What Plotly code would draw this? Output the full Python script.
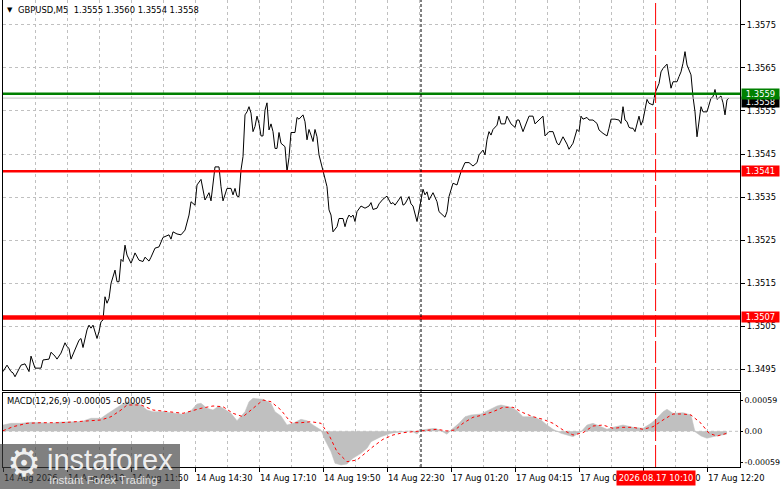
import plotly.graph_objects as go

# ---------------- data ----------------
price_bar = [
    0, 2, 4, 5, 6, 8, 9, 11, 13, 14,
    16, 19, 20, 23, 24, 26, 27, 29, 31, 32,
    33, 34, 36, 38, 39, 40, 42, 43, 44, 45,
    47, 48, 49, 50, 51, 52, 53, 54, 56, 57,
    58, 59, 60, 61, 62, 64, 65, 66, 68, 70,
    71, 73, 74, 76, 78, 79, 80, 83, 84, 85,
    87,
    89, 91, 93, 94, 96, 97, 99, 100, 101, 103,
    104, 106, 108, 109, 110, 112, 114, 115, 116, 117,
    118, 119, 120, 121, 122, 123, 124, 125, 126, 127,
    128, 129, 130, 131, 132, 133, 134, 135, 136, 137,
    138, 139, 141, 142, 143, 144, 146, 147, 148, 150,
    151, 152, 153, 154, 155, 156, 157, 158, 160, 162,
    163, 164, 165, 167, 168, 170, 171, 172, 173, 174,
    175, 176, 177, 179, 181, 183, 184, 185, 187, 188,
    190, 192, 194, 195, 196, 198, 199, 200, 201, 203,
    204, 205, 207,
    209, 210, 211, 212, 213, 215, 217, 218, 221, 222,
    223, 225, 227, 228, 229, 231, 233, 235, 237, 238,
    240, 241, 242, 243, 244, 245, 247, 248, 249, 251,
    252, 254, 255, 256, 257, 258, 260, 262, 263, 265,
    266, 268, 270, 271, 273, 275, 277, 278, 280, 282,
    283, 285, 287, 288, 289, 290, 292, 293, 295, 297,
    298, 300, 302, 303, 304, 306, 308, 309, 310, 311,
    312, 313, 314, 315, 316, 318, 319, 320, 322, 323,
    325, 326, 328, 329, 330, 332, 333, 334, 335, 337,
    338, 339, 340, 341, 342, 344, 345, 346, 347, 348,
    349, 350, 352, 353, 354, 355, 356, 357, 359, 360,
    361, 362, 363,
]
price_close = [
    1.34944, 1.34959, 1.34944, 1.34941, 1.34932, 1.34948, 1.34959, 1.34962, 1.34944, 1.34980,
    1.34952, 1.34952, 1.34971, 1.34973, 1.34989, 1.34980, 1.34973, 1.34987, 1.35011, 1.35002,
    1.34998, 1.34973, 1.34994, 1.35017, 1.35021, 1.35000, 1.35041, 1.35052, 1.35045, 1.35052,
    1.35021, 1.35037, 1.35060, 1.35064, 1.35118, 1.35103, 1.35114, 1.35149, 1.35180, 1.35153,
    1.35153, 1.35205, 1.35200, 1.35238, 1.35215, 1.35196, 1.35207, 1.35220, 1.35203, 1.35200,
    1.35210, 1.35201, 1.35210, 1.35231, 1.35234, 1.35246, 1.35256, 1.35262, 1.35252, 1.35269,
    1.35264,
    1.35262, 1.35273, 1.35308, 1.35339, 1.35331, 1.35378, 1.35391, 1.35366, 1.35343, 1.35360,
    1.35341, 1.35420, 1.35420, 1.35374, 1.35341, 1.35370, 1.35370, 1.35355, 1.35370, 1.35352,
    1.35351, 1.35413, 1.35444, 1.35541, 1.35548, 1.35560, 1.35545, 1.35502, 1.35514, 1.35538,
    1.35521, 1.35492, 1.35492, 1.35552, 1.35569, 1.35506, 1.35520, 1.35502, 1.35463, 1.35463,
    1.35500, 1.35475, 1.35467, 1.35409, 1.35442, 1.35500, 1.35500, 1.35535, 1.35531, 1.35541,
    1.35525, 1.35483, 1.35507, 1.35494, 1.35479, 1.35507, 1.35490, 1.35448, 1.35409, 1.35374,
    1.35320, 1.35308, 1.35269, 1.35281, 1.35300, 1.35300, 1.35281, 1.35298, 1.35308, 1.35303,
    1.35308, 1.35293, 1.35316, 1.35329, 1.35324, 1.35329, 1.35337, 1.35321, 1.35324, 1.35334,
    1.35345, 1.35352, 1.35334, 1.35337, 1.35331, 1.35343, 1.35351, 1.35331, 1.35334, 1.35351,
    1.35334, 1.35329, 1.35293,
    1.35343, 1.35368, 1.35355, 1.35362, 1.35343, 1.35360, 1.35339, 1.35316, 1.35303, 1.35316,
    1.35351, 1.35382, 1.35378, 1.35393, 1.35409, 1.35430, 1.35430, 1.35422, 1.35430, 1.35448,
    1.35459, 1.35448, 1.35483, 1.35502, 1.35494, 1.35507, 1.35517, 1.35538, 1.35520, 1.35520,
    1.35538, 1.35520, 1.35515, 1.35512, 1.35529, 1.35529, 1.35502, 1.35529, 1.35538, 1.35538,
    1.35520, 1.35529, 1.35538, 1.35492, 1.35502, 1.35502, 1.35475, 1.35471, 1.35490, 1.35473,
    1.35461, 1.35475, 1.35507, 1.35502, 1.35538, 1.35531, 1.35535, 1.35529, 1.35529, 1.35521,
    1.35506, 1.35498, 1.35492, 1.35510, 1.35531, 1.35531, 1.35529, 1.35521, 1.35560, 1.35529,
    1.35525, 1.35512, 1.35510, 1.35510, 1.35502, 1.35538, 1.35517, 1.35529, 1.35577, 1.35568,
    1.35564, 1.35591, 1.35614, 1.35641, 1.35649, 1.35659, 1.35630, 1.35603, 1.35618, 1.35618,
    1.35630, 1.35641, 1.35661, 1.35688, 1.35657, 1.35634, 1.35583, 1.35548, 1.35490, 1.35525,
    1.35560, 1.35548, 1.35548, 1.35564, 1.35580, 1.35583, 1.35600, 1.35577, 1.35585, 1.35569,
    1.35541, 1.35576, 1.35580,
]
assert len(price_bar) == len(price_close)

macd_bar = [
    0, 4, 9, 14, 19, 24, 29, 34, 39, 44,
    49, 52, 55, 59, 62, 65, 69, 72, 75, 80,
    85, 90, 94, 97, 99, 102, 105, 108, 110, 114,
    117, 119, 121, 123, 125, 130, 134, 136, 139, 142,
    145, 149, 152, 155, 159, 161, 164, 166, 169, 172,
    175, 179, 182, 184, 189, 194, 199, 204, 207, 209,
    213, 216, 219, 222, 224, 228, 231, 234, 239, 243,
    247, 249, 254, 257, 260, 265, 269, 272, 275, 279,
    282, 285, 289, 292, 295, 299, 302, 305, 310, 315,
    320, 324, 327, 330, 332, 335, 340, 344, 346, 349,
    352, 355, 359, 362,
]
macd_hist = [
    0.000120, 0.000153, 0.000153, 0.000172, 0.000164, 0.000153, 0.000178, 0.000184, 0.000184, 0.000249,
    0.000249, 0.000331, 0.000407, 0.000503, 0.000566, 0.000535, 0.000503, 0.000407, 0.000375, 0.000375,
    0.000344, 0.000325, 0.000394, 0.000522, 0.000535, 0.000440, 0.000407, 0.000484, 0.000440, 0.000344,
    0.000203, 0.000279, 0.000375, 0.000566, 0.000631, 0.000612, 0.000535, 0.000375, 0.000293, 0.000120,
    0.000153, 0.000229, 0.000203, 0.000120, 0.000025, -0.000166, -0.000390, -0.000612, -0.000644, -0.000625,
    -0.000516, -0.000421, -0.000325, -0.000199, -0.000103, -0.000038, -0.000013, 0.000011, -0.000052, 0.000025,
    0.000044, 0.000057, 0.000011, -0.000057, 0.000025, 0.000153, 0.000279, 0.000312, 0.000331, 0.000407,
    0.000484, 0.000503, 0.000459, 0.000394, 0.000279, 0.000279, 0.000216, 0.000120, 0.000038, -0.000038,
    -0.000071, -0.000103, -0.000008, 0.000120, 0.000153, 0.000088, 0.000038, 0.000076, 0.000120, 0.000076,
    0.000057, 0.000153, 0.000249, 0.000375, 0.000421, 0.000344, 0.000356, 0.000312, -0.000008, -0.000090,
    -0.000134, -0.000103, -0.000071, -0.000052,
]
assert len(macd_bar) == len(macd_hist)

signal_bar = [
    0, 5, 12, 19, 29, 39, 49, 54, 59, 62,
    69, 75, 82, 90, 99, 105, 110, 115, 120, 125,
    130, 134, 139, 144, 149, 154, 159, 163, 167, 172,
    177, 182, 185, 190, 195, 200, 205, 212, 217, 222,
    226, 230, 235, 240, 245, 250, 255, 260, 265, 270,
    275, 280, 285, 290, 295, 300, 305, 310, 315, 320,
    325, 330, 335, 340, 344, 349, 353, 357, 362,
]
signal_val = [
    0.000011, 0.000088, 0.000153, 0.000164, 0.000164, 0.000184, 0.000216, 0.000279, 0.000407, 0.000503,
    0.000503, 0.000407, 0.000375, 0.000344, 0.000440, 0.000484, 0.000470, 0.000344, 0.000279, 0.000440,
    0.000598, 0.000566, 0.000407, 0.000164, 0.000164, 0.000184, 0.000153, -0.000071, -0.000390, -0.000581,
    -0.000549, -0.000390, -0.000294, -0.000153, -0.000071, -0.000027, -0.000008, 0.000006, 0.000038, 0.000006,
    0.000025, 0.000153, 0.000268, 0.000312, 0.000375, 0.000459, 0.000459, 0.000356, 0.000279, 0.000229,
    0.000153, 0.000025, -0.000071, -0.000027, 0.000101, 0.000120, 0.000057, 0.000076, 0.000076, 0.000038,
    0.000088, 0.000216, 0.000331, 0.000331, 0.000312, 0.000153, -0.000038, -0.000090, -0.000038,
]
assert len(signal_bar) == len(signal_val)

price_ticks = [1.3495, 1.3505, 1.3515, 1.3525, 1.3535, 1.3545, 1.3555, 1.3565, 1.3575]
macd_ticks = [-0.00059, 0.0, 0.00059]
macd_tick_text = ["-0.00059", "0.00", "0.00059"]
time_tick_bars = [0, 32, 64, 96, 128, 160, 192, 224, 256, 288, 320, 352]
time_tick_text = ["14 Aug 2026", "14 Aug 09:10", "14 Aug 11:50", "14 Aug 14:30",
                  "14 Aug 17:10", "14 Aug 19:50", "14 Aug 22:30", "17 Aug 01:20",
                  "17 Aug 04:15", "17 Aug 07:00", "17 Aug 09:40", "17 Aug 12:20"]
grid_minor_bars = [16, 48, 80, 112, 144, 176, 208, 240, 272, 304, 336]

level_green = 1.3559
level_bid = 1.3558
level_red1 = 1.3541
level_red2 = 1.3507
cursor_bar = 326.3
cursor_text = "2026.08.17 10:10"
separator_bar = 209
header_text = "GBPUSD,M5  1.3555 1.3560 1.3554 1.3558"
macd_header = "MACD(12,26,9) -0.00005 -0.00005"

# ---------------- layout geometry ----------------
W, H = 781, 489
ML, MR, MT, MB = 3, 41, 0, 22
PW, PH = W - ML - MR, H - MT - MB


def pxx(p):
    return (p - ML) / PW


def pxy(p):
    return (PH + MT - p) / PH


FONT = "DejaVu Sans"
FS = 8.4
GRID = "#c0c0c0"

fig = go.Figure()
fig.add_trace(go.Scatter(x=price_bar, y=price_close, mode="lines",
                         line=dict(color="black", width=1), xaxis="x", yaxis="y",
                         hoverinfo="skip"))
fig.add_trace(go.Scatter(x=macd_bar, y=macd_hist, mode="lines", fill="tozeroy",
                         fillcolor="#c0c0c0", line=dict(color="#c0c0c0", width=0.5),
                         xaxis="x2", yaxis="y2", hoverinfo="skip"))
fig.add_trace(go.Scatter(x=signal_bar, y=signal_val, mode="lines",
                         line=dict(color="#ff0000", width=1, dash="3px,3px"),
                         xaxis="x2", yaxis="y2", hoverinfo="skip"))

xcommon = dict(range=[0, 368.5], tickmode="array", tickvals=time_tick_bars,
               showgrid=True, gridcolor=GRID, griddash="3px,3px", gridwidth=1,
               zeroline=False, linecolor="black", linewidth=1, automargin=False,
               tickangle=0,
               minor=dict(tickmode="array", tickvals=grid_minor_bars, showgrid=True,
                          gridcolor=GRID, griddash="3px,3px", ticks=""))

fig.update_layout(
    width=W, height=H,
    margin=dict(l=ML, r=MR, t=MT, b=MB, autoexpand=False),
    paper_bgcolor="white", plot_bgcolor="white",
    showlegend=False, hovermode=False,
    font=dict(family=FONT, size=FS, color="black"),
    xaxis=dict(**xcommon, anchor="y", showticklabels=False, ticks="",
               showline=True, mirror=False, domain=[0, 1]),
    xaxis2=dict(**xcommon, anchor="y2", matches="x", ticktext=time_tick_text,
                ticks="outside", ticklen=4, tickcolor="black", ticklabelstandoff=3,
                ticklabelposition="outside right", showline=True, mirror=True,
                tickfont=dict(family=FONT, size=FS, color="black"), domain=[0, 1]),
    yaxis=dict(domain=[pxy(390), 1], range=[1.349012, 1.358081], side="right",
               tickmode="array", tickvals=price_ticks, tickformat=".4f",
               ticks="outside", ticklen=4, tickcolor="black", automargin=False,
               showgrid=True, gridcolor=GRID, griddash="3px,3px", zeroline=False,
               showline=True, mirror=True, linecolor="black", linewidth=1,
               tickfont=dict(family=FONT, size=FS, color="black")),
    yaxis2=dict(domain=[0, pxy(393)], range=[-0.0006826, 0.0007323], side="right",
                tickmode="array", tickvals=macd_ticks, ticktext=macd_tick_text,
                ticks="outside", ticklen=2, tickcolor="black", automargin=False,
                showgrid=False, zeroline=False,
                showline=True, mirror=True, linecolor="black", linewidth=1,
                tickfont=dict(family=FONT, size=7.9, color="black")),
)

shapes = []
# MACD zero level
shapes.append(dict(type="line", xref="x2", yref="y2", x0=0, x1=368.5, y0=0, y1=0,
                   line=dict(color=GRID, width=1, dash="3px,3px"), layer="below"))
# horizontal levels
shapes.append(dict(type="line", xref="paper", yref="y", x0=0, x1=1, y0=level_bid, y1=level_bid,
                   line=dict(color="#c0c0c0", width=1), layer="above"))
shapes.append(dict(type="line", xref="paper", yref="y", x0=0, x1=1, y0=level_green, y1=level_green,
                   line=dict(color="#008000", width=2.5), layer="above"))
shapes.append(dict(type="line", xref="paper", yref="y", x0=0, x1=1, y0=level_red1, y1=level_red1,
                   line=dict(color="#ff0000", width=2.5), layer="above"))
shapes.append(dict(type="line", xref="paper", yref="y", x0=0, x1=1, y0=level_red2, y1=level_red2,
                   line=dict(color="#ff0000", width=4.5), layer="above"))
# vertical separators
shapes.append(dict(type="line", xref="x", yref="paper", x0=separator_bar, x1=separator_bar,
                   y0=0, y1=1, line=dict(color="black", width=1, dash="3px,2px"), layer="above"))
shapes.append(dict(type="line", xref="x", yref="paper", x0=cursor_bar, x1=cursor_bar,
                   y0=0, y1=1, line=dict(color="#ff0000", width=1, dash="22px,4px"), layer="above"))
# watermark backdrop
shapes.append(dict(type="rect", xref="paper", yref="paper", x0=pxx(0), x1=pxx(180),
                   y0=pxy(489), y1=pxy(444), fillcolor="rgba(60,60,60,0.65)",
                   line=dict(width=0), layer="above"))

annotations = []
annotations.append(dict(text="▼", xref="paper", yref="paper", x=pxx(5), y=pxy(10),
                        xanchor="left", yanchor="middle", showarrow=False,
                        font=dict(family=FONT, size=7, color="black")))
annotations.append(dict(text=header_text, xref="paper", yref="paper", x=pxx(16), y=pxy(10),
                        xanchor="left", yanchor="middle", showarrow=False,
                        font=dict(family=FONT, size=FS, color="black")))
annotations.append(dict(text=macd_header, xref="paper", yref="paper", x=pxx(5), y=pxy(401),
                        xanchor="left", yanchor="middle", showarrow=False,
                        font=dict(family=FONT, size=FS, color="black")))


def level_label(value, text, bg):
    return dict(text=text, xref="paper", yref="y", x=pxx(741), y=value,
                xanchor="left", yanchor="middle", showarrow=False,
                bgcolor=bg, borderpad=0, width=37, height=10, align="center",
                font=dict(family=FONT, size=FS, color="white"))


annotations.append(level_label(level_bid - 0.00009, "1.3558", "black"))
annotations.append(level_label(level_green, "1.3559", "#008000"))
annotations.append(level_label(level_red1, "1.3541", "#ff0000"))
annotations.append(level_label(level_red2, "1.3507", "#ff0000"))

annotations.append(dict(text=cursor_text, xref="x2", yref="paper", x=cursor_bar, y=pxy(477.5),
                        xanchor="center", yanchor="middle", showarrow=False,
                        bgcolor="#ff0000", borderpad=0, width=78, height=14,
                        font=dict(family=FONT, size=FS, color="white")))

# watermark texts
annotations.append(dict(text="⚙", xref="paper", yref="paper", x=pxx(24), y=pxy(463),
                        xanchor="center", yanchor="middle", showarrow=False,
                        font=dict(family="DejaVu Sans", size=38, color="rgba(255,255,255,0.9)")))
annotations.append(dict(text="instaforex", xref="paper", yref="paper", x=pxx(45), y=pxy(460),
                        xanchor="left", yanchor="middle", showarrow=False,
                        font=dict(family="Liberation Sans", size=29, color="rgba(255,255,255,0.9)")))
annotations.append(dict(text="Instant Forex Trading", xref="paper", yref="paper", x=pxx(47),
                        y=pxy(480), xanchor="left", yanchor="middle", showarrow=False,
                        font=dict(family="Liberation Sans", size=11.5, color="rgba(255,255,255,0.8)")))

fig.update_layout(shapes=shapes, annotations=annotations)

fig.write_html("out.html", config={"displayModeBar": False},
               post_script="document.body.style.margin='0';document.body.style.overflow='hidden';")
